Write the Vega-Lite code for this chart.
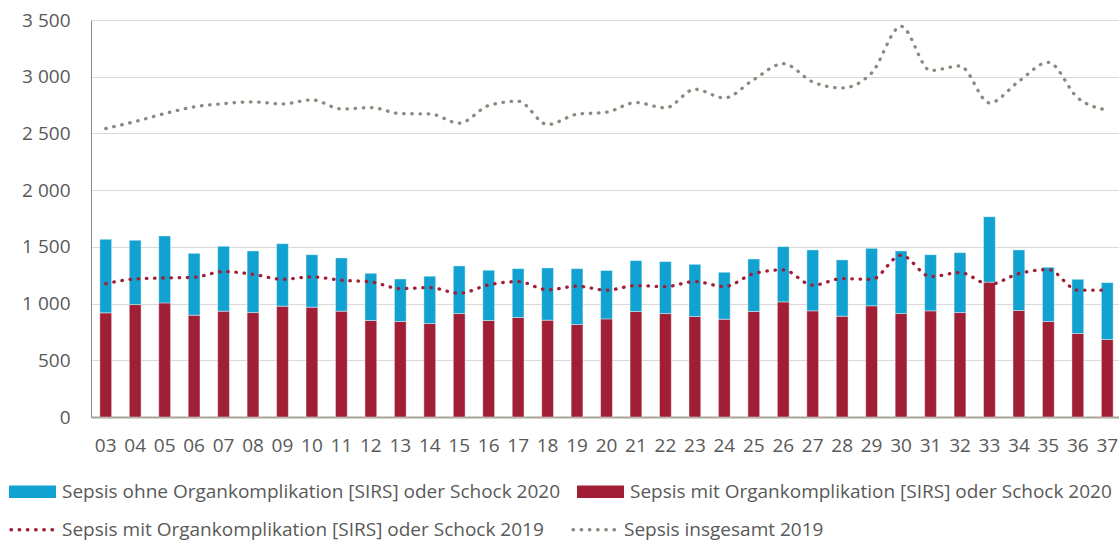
{
  "$schema": "https://vega.github.io/schema/vega-lite/v6.json",
  "autosize": {"type": "none"},
  "width": 1031,
  "height": 397,
  "padding": {"left": 91, "top": 20, "right": 0, "bottom": 126},
  "background": "white",
  "config": {
    "view": {"stroke": null},
    "font": "Open Sans",
    "axis": {"labelFont": "Open Sans", "labelFontSize": 19, "labelColor": "#595959", "ticks": false, "title": null},
    "axisY": {"gridColor": "#D9D9D9", "gridWidth": 1, "domainColor": "#8C8A80", "domainWidth": 1, "labelPadding": 21},
    "axisX": {"grid": false, "domainColor": "#A6A39B", "domainWidth": 2, "labelPadding": 19, "labelAngle": 0},
    "legend": {"labelFont": "Open Sans", "labelFontSize": 19, "labelColor": "#595959", "labelLimit": 1000, "title": null, "padding": 0}
  },
  "data": {
    "values": [
      {"w": "03", "mit20": 918, "ges20": 1566, "mit19": 1176, "ges19": 2543},
      {"w": "04", "mit20": 991, "ges20": 1558, "mit19": 1217, "ges19": 2605},
      {"w": "05", "mit20": 1006, "ges20": 1596, "mit19": 1226, "ges19": 2675},
      {"w": "06", "mit20": 898, "ges20": 1443, "mit19": 1232, "ges19": 2734},
      {"w": "07", "mit20": 933, "ges20": 1505, "mit19": 1282, "ges19": 2763},
      {"w": "08", "mit20": 921, "ges20": 1464, "mit19": 1258, "ges19": 2778},
      {"w": "09", "mit20": 977, "ges20": 1528, "mit19": 1214, "ges19": 2760},
      {"w": "10", "mit20": 968, "ges20": 1431, "mit19": 1235, "ges19": 2796},
      {"w": "11", "mit20": 933, "ges20": 1402, "mit19": 1206, "ges19": 2716},
      {"w": "12", "mit20": 851, "ges20": 1267, "mit19": 1191, "ges19": 2728},
      {"w": "13", "mit20": 842, "ges20": 1217, "mit19": 1132, "ges19": 2675},
      {"w": "14", "mit20": 824, "ges20": 1241, "mit19": 1141, "ges19": 2672},
      {"w": "15", "mit20": 912, "ges20": 1332, "mit19": 1091, "ges19": 2590},
      {"w": "16", "mit20": 851, "ges20": 1294, "mit19": 1165, "ges19": 2746},
      {"w": "17", "mit20": 877, "ges20": 1308, "mit19": 1194, "ges19": 2784},
      {"w": "18", "mit20": 854, "ges20": 1314, "mit19": 1121, "ges19": 2578},
      {"w": "19", "mit20": 815, "ges20": 1308, "mit19": 1153, "ges19": 2669},
      {"w": "20", "mit20": 865, "ges20": 1291, "mit19": 1118, "ges19": 2687},
      {"w": "21", "mit20": 930, "ges20": 1379, "mit19": 1159, "ges19": 2772},
      {"w": "22", "mit20": 912, "ges20": 1370, "mit19": 1150, "ges19": 2725},
      {"w": "23", "mit20": 886, "ges20": 1346, "mit19": 1194, "ges19": 2889},
      {"w": "24", "mit20": 862, "ges20": 1276, "mit19": 1150, "ges19": 2813},
      {"w": "25", "mit20": 930, "ges20": 1393, "mit19": 1264, "ges19": 2975},
      {"w": "26", "mit20": 1015, "ges20": 1502, "mit19": 1297, "ges19": 3115},
      {"w": "27", "mit20": 936, "ges20": 1473, "mit19": 1162, "ges19": 2954},
      {"w": "28", "mit20": 889, "ges20": 1385, "mit19": 1220, "ges19": 2901},
      {"w": "29", "mit20": 980, "ges20": 1487, "mit19": 1214, "ges19": 3033},
      {"w": "30", "mit20": 912, "ges20": 1464, "mit19": 1426, "ges19": 3444},
      {"w": "31", "mit20": 936, "ges20": 1431, "mit19": 1238, "ges19": 3054},
      {"w": "32", "mit20": 921, "ges20": 1449, "mit19": 1273, "ges19": 3095},
      {"w": "33", "mit20": 1188, "ges20": 1766, "mit19": 1170, "ges19": 2769},
      {"w": "34", "mit20": 939, "ges20": 1473, "mit19": 1264, "ges19": 2960},
      {"w": "35", "mit20": 842, "ges20": 1320, "mit19": 1300, "ges19": 3127},
      {"w": "36", "mit20": 736, "ges20": 1214, "mit19": 1118, "ges19": 2813},
      {"w": "37", "mit20": 683, "ges20": 1185, "mit19": 1118, "ges19": 2705}
    ]
  },
  "encoding": {
    "x": {"field": "w", "type": "ordinal", "title": null, "scale": {"paddingInner": 0.6, "paddingOuter": 0.3}}
  },
  "layer": [
    {
      "mark": {"type": "bar", "stroke": "#ffffff", "strokeWidth": 0.8, "strokeOpacity": 0.5},
      "encoding": {
        "y": {"field": "mit20", "type": "quantitative", "title": null,
              "scale": {"domain": [0, 3500], "nice": false},
              "axis": {"values": [0, 500, 1000, 1500, 2000, 2500, 3000, 3500], "labelExpr": "replace(format(datum.value, ','), ',', ' ')"}},
        "fill": {"datum": "Sepsis mit Organkomplikation [SIRS] oder Schock 2020",
                 "scale": {"domain": ["Sepsis ohne Organkomplikation [SIRS] oder Schock 2020", "Sepsis mit Organkomplikation [SIRS] oder Schock 2020"], "range": ["#12A2D1", "#A01F36"]},
                 "legend": {"orient": "none", "legendX": -82, "legendY": 448, "direction": "horizontal",
                            "symbolType": "M-1,-0.27H1V0.27H-1Z", "symbolSize": 2209, "symbolStrokeWidth": 0, "symbolOpacity": 1,
                            "labelOffset": 6, "columnPadding": 16}}
      }
    },
    {
      "mark": {"type": "bar", "stroke": "#ffffff", "strokeWidth": 0.8, "strokeOpacity": 0.5},
      "encoding": {
        "y": {"field": "mit20", "type": "quantitative", "title": null},
        "y2": {"field": "ges20"},
        "fill": {"datum": "Sepsis ohne Organkomplikation [SIRS] oder Schock 2020"}
      }
    },
    {
      "mark": {"type": "line", "interpolate": "monotone", "strokeWidth": 3.3, "strokeDash": [0.5, 7.7], "strokeCap": "round"},
      "encoding": {
        "y": {"field": "mit19", "type": "quantitative", "title": null},
        "stroke": {"datum": "Sepsis mit Organkomplikation [SIRS] oder Schock 2019",
                   "scale": {"domain": ["Sepsis mit Organkomplikation [SIRS] oder Schock 2019", "Sepsis insgesamt 2019"], "range": ["#A01F36", "#8C8A7E"]},
                   "legend": {"orient": "none", "legendX": -82, "legendY": 484, "direction": "horizontal",
                              "symbolType": "stroke", "symbolSize": 2209, "symbolStrokeWidth": 3.3, "symbolDash": [0.5, 7.7],
                              "labelOffset": 2, "columnPadding": 22,
                              "encode": {"symbols": {"update": {"strokeCap": {"value": "round"}}}}}}
      }
    },
    {
      "mark": {"type": "line", "interpolate": "monotone", "strokeWidth": 3.3, "strokeDash": [0.5, 7.7], "strokeCap": "round"},
      "encoding": {
        "y": {"field": "ges19", "type": "quantitative", "title": null},
        "stroke": {"datum": "Sepsis insgesamt 2019"}
      }
    }
  ]
}
